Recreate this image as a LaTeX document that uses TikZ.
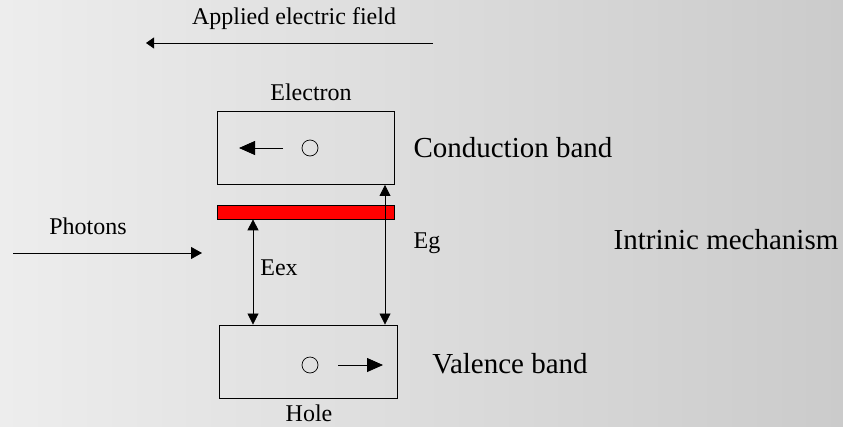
\documentclass[tikz,border=0pt]{standalone}
\usepackage{fontspec}
\setmainfont{Liberation Serif}
\usetikzlibrary{arrows.meta}
\definecolor{bgleft}{RGB}{237,237,237}
\definecolor{bgright}{RGB}{203,203,203}
\definecolor{barred}{RGB}{255,0,0}
\tikzset{
  box/.style={draw=black, line width=0.9pt},
  arr/.style={line width=0.8pt, -{Triangle[length=11pt,width=12pt]}},
  bigarr/.style={line width=0.8pt, -{Triangle[length=16pt,width=14pt]}},
  darr/.style={line width=0.8pt, {Triangle[length=11pt,width=11pt]}-{Triangle[length=11pt,width=11pt]}},
  small/.style={font=\fontsize{24}{28}\selectfont, inner sep=0pt},
  big/.style={font=\fontsize{29}{34}\selectfont, inner sep=0pt},
  dot/.style={draw, circle, minimum size=16pt, inner sep=0pt, line width=0.7pt}
}
\begin{document}
\begin{tikzpicture}[x=1pt,y=-1pt]
\shade[left color=bgleft, right color=bgright] (0,0) rectangle (843,426);
\useasboundingbox (0,0) rectangle (843,426);
% texts
\node[small] (field) at (294,19) {Applied electric field};
\coordinate (fs) at (433,43);
\coordinate (fe) at (146,43);
\draw[line width=0.8pt, -{Triangle[length=8pt,width=11pt]}] (fs) -- (fe);
\node[small] (electron) at (311,92) {Electron};
\node[small] (hole) at (309,413) {Hole};
\node[small] (photons) at (88,226) {Photons};
\coordinate (ps) at (13,253);
\coordinate (pe) at (202,253);
\draw[arr] (ps) -- (pe);
% boxes
\node[box, minimum width=177pt, minimum height=73pt, inner sep=0pt] (cb) at (306,148) {};
\node[box, minimum width=178pt, minimum height=73pt, inner sep=0pt] (vb) at (308,361.5) {};
\node[draw=black, fill=barred, line width=0.7pt, minimum width=177pt, minimum height=14pt, inner sep=0pt] (bar) at (306,212) {};
% inside
\node[dot] (e) at (310,148) {};
\coordinate (ea) at (283,148);
\coordinate (eb) at (239,148);
\draw[bigarr] (ea) -- (eb);
\node[dot] (h) at (310,365) {};
\coordinate (ha) at (338,365);
\coordinate (hb) at (383,365);
\draw[bigarr] (ha) -- (hb);
% gap arrows
\draw[darr] (bar.south -| 253,0) -- (vb.north -| 253,0);
\draw[darr] (cb.south -| 385,0) -- (vb.north -| 385,0);
\node[small] (eex) at (279,268) {Eex};
\node[small] (eg) at (427,243) {Eg};
% band labels
\node[big] (cbl) at (513,148) {Conduction band};
\node[big] (vbl) at (510,364) {Valence band};
\node[big] (mech) at (726,240) {Intrinic mechanism};
\end{tikzpicture}
\end{document}
